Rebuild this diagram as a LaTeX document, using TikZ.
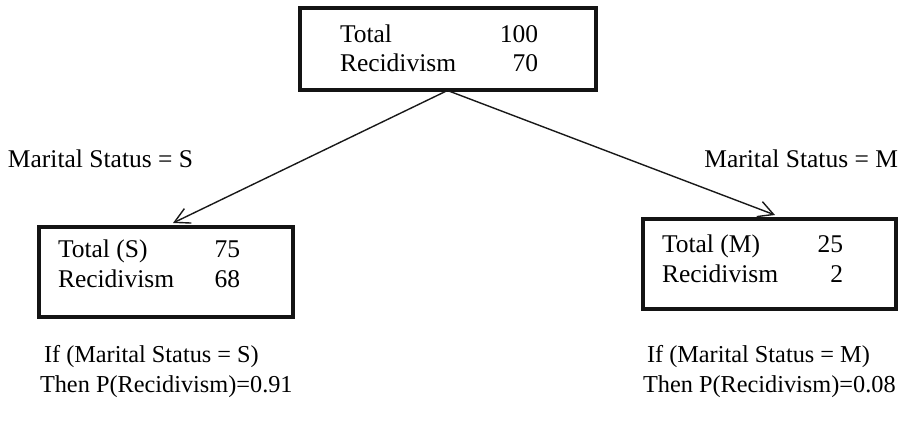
\documentclass[tikz,border=0pt]{standalone}
\usepackage{fontspec}
\setmainfont{Liberation Serif}
\usetikzlibrary{arrows.meta}
\begin{document}
\begin{tikzpicture}[x=1pt,y=-1pt,
  box/.style={draw=black!92,line width=4pt,rectangle,inner sep=0pt,outer sep=0pt},
  txt/.style={inner sep=0pt,outer sep=0pt,font=\fontsize{25.5}{29}\selectfont},
  rule/.style={inner sep=0pt,outer sep=0pt,font=\fontsize{24.3}{29}\selectfont},
  conn/.style={draw=black!90,line width=1.4pt,-{Straight Barb[length=15pt,width=16pt,line width=1.4pt]}}]
\useasboundingbox (0,0) rectangle (906,427);
% boxes
\node[box,minimum width=296pt,minimum height=82pt] (top) at (447.5,49.5) {};
\node[box,minimum width=254pt,minimum height=90pt] (left) at (166,272) {};
\node[box,minimum width=253pt,minimum height=90pt] (right) at (769.5,264) {};
% top box text
\node[txt,anchor=base west] (t1) at (340,43) {Total};
\node[txt,anchor=base west] (t2) at (340,72) {Recidivism};
\node[txt,anchor=base east] (t3) at (538,43) {100};
\node[txt,anchor=base east] (t4) at (538,72) {70};
% left box text
\node[txt,anchor=base west] (l1) at (58,258) {Total (S)};
\node[txt,anchor=base west] (l2) at (58,288) {Recidivism};
\node[txt,anchor=base east] (l3) at (240,258) {75};
\node[txt,anchor=base east] (l4) at (240,288) {68};
% right box text
\node[txt,anchor=base west] (r1) at (662,253) {Total (M)};
\node[txt,anchor=base west] (r2) at (662,283) {Recidivism};
\node[txt,anchor=base east] (r3) at (843,253) {25};
\node[txt,anchor=base east] (r4) at (843,283) {2};
% connectors
\coordinate (ltip) at (173,223);
\coordinate (rtip) at (775,215);
\draw[conn] (top.south) -- (ltip);
\draw[conn] (top.south) -- (rtip);
% labels
\node[txt,anchor=base west] (ms) at (8,168) {Marital Status = S};
\node[txt,anchor=base east] (mm) at (898,168) {Marital Status = M};
\node[rule,anchor=base west] (is) at (44,363) {If (Marital Status = S)};
\node[rule,anchor=base west] (ts) at (40,393) {Then P(Recidivism)=0.91};
\node[rule,anchor=base west] (im) at (647,363) {If (Marital Status = M)};
\node[rule,anchor=base west] (tm) at (643,393) {Then P(Recidivism)=0.08};
\end{tikzpicture}
\end{document}
